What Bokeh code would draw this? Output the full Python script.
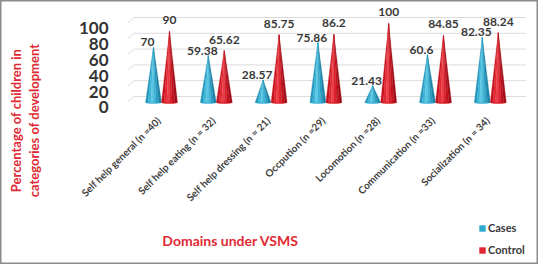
from math import pi
from bokeh.plotting import figure
from bokeh.models import (ColumnDataSource, Range1d, Label, Legend, LegendItem)
from bokeh.core.properties import value
from bokeh.embed import file_html
from bokeh.resources import INLINE

categories = ["Self help general (n =40)", "Self help eating (n = 32)",
              "Self help dressing (n = 21)", "Occpution (n =29)",
              "Locomotion (n =28)", "Communication (n =33)",
              "Socialization (n = 34)"]
cases = [70, 59.38, 28.57, 75.86, 21.43, 60.6, 82.35]
control = [90, 65.62, 85.75, 86.2, 100, 84.85, 88.24]
y_ticks = [0, 20, 40, 60, 80, 100]

FONT = "Lato"
RED = "#E02A33"
TXT = "#3a3a3a"

# Frame covers the whole canvas; scales put category i at 161 + 54.8*i px,
# value 0 at 102 px and 0.79 px per percent.
p = figure(width=538, height=264, output_backend="svg", toolbar_location=None,
           x_range=Range1d(-2.938, 6.880), y_range=Range1d(-205.06, 129.11),
           x_axis_location=None, y_axis_location=None,
           min_border=0, background_fill_color="white",
           border_fill_color="white", outline_line_color="#8c8c8c",
           outline_line_width=2)
p.xgrid.visible = False
p.ygrid.visible = False

# tick labels sit on a front plane, grid lines on the back wall
p.extra_y_ranges = {"lab": Range1d(-198.73, 135.44), "grid": Range1d(-212.66, 121.52)}

n = len(y_ticks)
p.segment(x0=[-0.5] * n, x1=[6.65] * n, y0=y_ticks, y1=y_ticks, y_range_name="grid",
          line_color="#dcdcdc", line_width=1)
p.segment(x0=[-0.62] * n, x1=[-0.5] * n, y0=[t - 7.0 for t in y_ticks], y1=y_ticks,
          y_range_name="grid", line_color="#dcdcdc", line_width=1)

p.text(x=[-0.967] * n, y=y_ticks, text=[str(t) for t in y_ticks], y_range_name="lab",
       text_align="right", text_baseline="middle", text_font=value(FONT),
       text_font_size="17px", text_font_style="bold", text_color="#333333")

p.text(x=[i - 0.05 for i in range(len(categories))], y=[-20.5] * len(categories),
       text=categories, angle=pi / 4, text_align="right", text_baseline="middle",
       text_font=value(FONT), text_font_size="10px", text_font_style="bold",
       text_color="#404040")

OFF = 0.146
HW = 0.146
NS = 6
cyan_shades = ["#2596BA", "#3CB4D8", "#5CC8E5", "#40B3D6", "#2C9EC3", "#1C82A6"]
red_shades = ["#C4131E", "#E02833", "#EC3F49", "#DA222D", "#C3141E", "#A20E17"]


def cone_source(values, shift, shades):
    xs, ys, cs = [], [], []
    w = 2 * HW / NS
    for i, v in enumerate(values):
        xc = i + shift
        for k in range(NS):
            xs.append([xc - HW + k * w, xc - HW + (k + 1) * w, xc])
            ys.append([0, 0, v])
            cs.append(shades[k])
    return ColumnDataSource(dict(xs=xs, ys=ys, c=cs))


for vals, shift, shades, xo, yo in ((cases, -OFF, cyan_shades, -6, -1),
                                     (control, OFF, red_shades, 0, -7)):
    xc = [i + shift for i in range(len(vals))]
    p.ellipse(x=xc, y=[0] * len(vals), width=2 * HW, height=3.2,
              fill_color=shades[3], line_color=None)
    p.patches("xs", "ys", source=cone_source(vals, shift, shades),
              fill_color="c", line_color="c", line_width=0.3)
    p.text(x=xc, y=vals, text=[f"{v:g}" for v in vals], text_align="center",
           text_baseline="bottom", x_offset=xo, y_offset=yo, text_font=value(FONT),
           text_font_size="12px", text_font_style="bold", text_color=TXT)

# legend swatches (a quad kept off-screen so the legend has a glyph to draw)
r_cases = p.quad(left=[-50], right=[-49], bottom=[-1001], top=[-1000],
                 fill_color="#2BA9CE", line_color=None)
r_ctrl = p.quad(left=[-50], right=[-49], bottom=[-1001], top=[-1000],
                fill_color="#E0232E", line_color=None)
legend = Legend(items=[LegendItem(label="Cases", renderers=[r_cases]),
                       LegendItem(label="Control", renderers=[r_ctrl])],
                location=(478, 8), orientation="vertical",
                glyph_width=8, glyph_height=8, label_standoff=2, spacing=9,
                padding=0, margin=0, border_line_color=None,
                background_fill_alpha=0, label_text_font=FONT,
                label_text_font_size="11px", label_text_font_style="bold",
                label_text_color=TXT)
p.add_layout(legend, "center")

for txt, sx in (("Percentage of children in", 15), ("categories of development", 33)):
    p.add_layout(Label(x=sx, y=144, x_units="screen", y_units="screen", text=txt,
                       angle=pi / 2, text_align="center", text_baseline="middle",
                       text_font=FONT, text_font_size="13px", text_font_style="bold",
                       text_color=RED))

p.add_layout(Label(x=230, y=24, x_units="screen", y_units="screen",
                   text="Domains under VSMS", text_align="center",
                   text_baseline="middle", text_font=FONT, text_font_size="14px",
                   text_font_style="bold", text_color=RED))

open("out.html", "w").write(file_html(p, INLINE))
